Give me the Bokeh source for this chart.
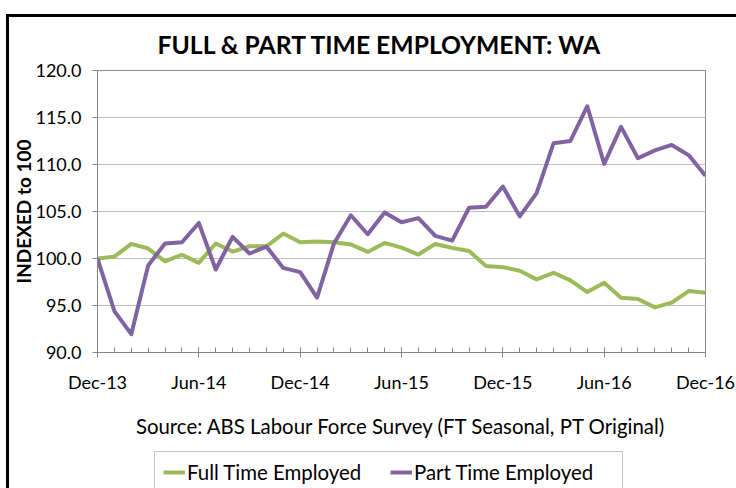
from bokeh.plotting import figure
from bokeh.layouts import column
from bokeh.models import (Range1d, FixedTicker, Legend, LegendItem, InlineStyleSheet)
from bokeh.embed import file_html
from bokeh.resources import INLINE

# ---- data ----
months = list(range(37))  # Dec-13 .. Dec-16, monthly index
full_time = [100.0, 100.2, 101.55, 101.06, 99.7, 100.4, 99.54, 101.6, 100.74, 101.3,
             101.3, 102.65, 101.73, 101.8, 101.73, 101.5, 100.7, 101.66, 101.15, 100.42,
             101.55, 101.13, 100.8, 99.19, 99.08, 98.7, 97.78, 98.48, 97.67, 96.43,
             97.42, 95.83, 95.7, 94.8, 95.3, 96.54, 96.36]
part_time = [100.0, 94.4, 91.95, 99.26, 101.6, 101.73, 103.78, 98.83, 102.3, 100.53,
             101.27, 99.0, 98.55, 95.83, 101.6, 104.6, 102.58, 104.9, 103.85, 104.3,
             102.4, 101.9, 105.4, 105.5, 107.66, 104.48, 106.96, 112.25, 112.5, 116.2,
             110.06, 114.0, 110.66, 111.5, 112.08, 111.0, 108.8]
x_tick_pos = [0, 6, 12, 18, 24, 30, 36]
x_tick_labels = ["Dec-13", "Jun-14", "Dec-14", "Jun-15", "Dec-15", "Jun-16", "Dec-16"]
y_ticks = [90, 95, 100, 105, 110, 115, 120]
series_names = ["Full Time Employed", "Part Time Employed"]

FONT = "Lato"
GREEN = "#9bbb59"
PURPLE = "#8064a2"
AXIS = "#868686"

W, H1, H2 = 736, 440, 48
FL, FT, FW, FH = 97, 70, 608, 283

p = figure(width=W, height=H1, output_backend="svg", toolbar_location=None,
           x_range=Range1d(0, 36), y_range=Range1d(90, 120),
           min_border_left=FL, min_border_top=FT,
           min_border_right=W - FL - FW, min_border_bottom=H1 - FT - FH)
p.outline_line_color = "#8c8c8c"
p.outline_line_width = 1
p.background_fill_color = "white"
p.border_fill_color = None

# title
p.title.text = "FULL & PART TIME EMPLOYMENT: WA"
p.title.align = "left"
p.title.offset = 60
p.title.text_font = FONT
p.title.text_font_style = "bold"
p.title.text_font_size = "24.7px"
p.title.text_color = "#000000"
p.title.standoff = 23

p.line(months, full_time, line_color=GREEN, line_width=4, line_join="round")
p.line(months, part_time, line_color=PURPLE, line_width=4, line_join="round")

# axes
xa = p.xaxis[0]
xa.ticker = FixedTicker(ticks=x_tick_pos, minor_ticks=months)
xa.major_label_overrides = {t: l for t, l in zip(x_tick_pos, x_tick_labels)}
xa.major_tick_in = 5
xa.major_tick_out = 5
xa.minor_tick_in = 5
xa.minor_tick_out = 0
xa.axis_line_color = AXIS
xa.major_tick_line_color = AXIS
xa.minor_tick_line_color = AXIS
xa.major_label_text_font = FONT
xa.major_label_text_font_size = "18px"
xa.major_label_text_color = "#000000"
xa.major_label_standoff = 13
xa.axis_label = "Source: ABS Labour Force Survey (FT Seasonal, PT Original)"
xa.axis_label_text_font = FONT
xa.axis_label_text_font_size = "20.4px"
xa.axis_label_text_font_style = "normal"
xa.axis_label_text_color = "#000000"
xa.axis_label_standoff = 18

ya = p.yaxis[0]
ya.ticker = FixedTicker(ticks=y_ticks)
ya.major_label_overrides = {t: f"{t:.1f}" for t in y_ticks}
ya.major_tick_in = 0
ya.major_tick_out = 5
ya.minor_tick_line_color = None
ya.axis_line_color = AXIS
ya.major_tick_line_color = AXIS
ya.major_label_text_font = FONT
ya.major_label_text_font_size = "18px"
ya.major_label_text_color = "#000000"
ya.major_label_standoff = 11
ya.axis_label = "INDEXED to 100"
ya.axis_label_text_font = FONT
ya.axis_label_text_font_size = "19px"
ya.axis_label_text_font_style = "bold"
ya.axis_label_text_color = "#000000"
ya.axis_label_standoff = -3

p.xgrid.grid_line_color = None
p.ygrid.grid_line_color = "#bdbdbd"
p.ygrid.grid_line_width = 1

p.stylesheets = [InlineStyleSheet(css=":host { box-shadow: inset 0 14px 0 0 #fff, inset 6px 0 0 0 #fff, inset 0 17px 0 0 #000, inset 9px 0 0 0 #000; }")]

# ---- legend strip (second figure; series drawn out of its view, only the legend shows) ----
p2 = figure(width=W, height=H2, output_backend="svg", toolbar_location=None,
            x_range=Range1d(0, 1), y_range=Range1d(0, 1),
            x_axis_location=None, y_axis_location=None,
            min_border=0, min_border_left=0, min_border_right=0,
            min_border_top=0, min_border_bottom=0)
p2.outline_line_color = None
p2.background_fill_color = None
p2.border_fill_color = None
p2.xgrid.grid_line_color = None
p2.ygrid.grid_line_color = None
l_ft = p2.line(months, full_time, line_color=GREEN, line_width=4)
l_pt = p2.line(months, part_time, line_color=PURPLE, line_width=4)

legend = Legend(items=[LegendItem(label=series_names[0], renderers=[l_ft]),
                       LegendItem(label=series_names[1], renderers=[l_pt])],
                orientation="horizontal", location=(57, -5),
                label_text_font=FONT, label_text_font_size="20.4px", label_text_color="#000000",
                glyph_width=22, glyph_height=24, label_height=24, label_width=200,
                label_standoff=2, spacing=3, padding=8, margin=0,
                border_line_color="#8c8c8c", border_line_width=1,
                background_fill_color="white", background_fill_alpha=1)
p2.add_layout(legend, "center")
p2.stylesheets = [InlineStyleSheet(css=":host { box-shadow: inset 6px 0 0 0 #fff, inset 9px 0 0 0 #000; }")]

layout = column(p, p2, spacing=0)
open("out.html", "w").write(file_html(layout, INLINE))
